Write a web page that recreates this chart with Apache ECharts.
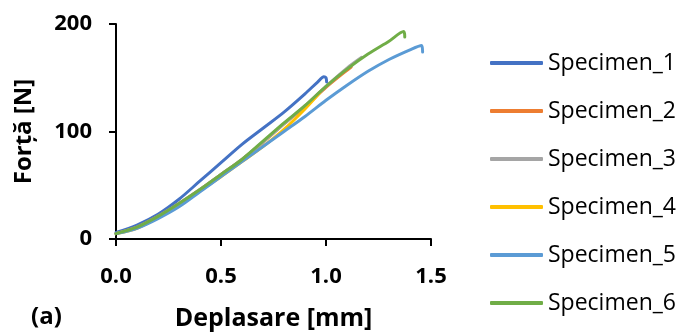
<!DOCTYPE html>
<html>
<head>
<meta charset="utf-8">
<script src="https://cdn.jsdelivr.net/npm/echarts@6/dist/echarts.min.js"></script>
<style>
html,body{margin:0;padding:0;background:#fff;}
#chart{width:682px;height:336px;}
</style>
</head>
<body>
<div id="chart"></div>
<script>
// ---- data (displacement [mm], force [N]) ----
const seriesNames = ['Specimen_1','Specimen_2','Specimen_3','Specimen_4','Specimen_5','Specimen_6'];
const seriesColors = ['#4472C4','#ED7D31','#A5A5A5','#FFC000','#5B9BD5','#70AD47'];
const xTickLabels = ['0.0','0.5','1.0','1.5'];
const yTickLabels = ['0','100','200'];

const specimen1 = [[0,6],[0.1,13],[0.2,23],[0.3,37],[0.4,54],[0.5,71],[0.6,88],[0.7,103],[0.8,118],[0.9,135],[0.96,146],[0.99,151],[1.0,150],[1.003,146]];
const specimen2 = [[0,5],[0.1,11],[0.2,21],[0.3,33],[0.4,46],[0.5,60],[0.6,74],[0.7,90],[0.8,107],[0.9,123],[1.0,141],[1.1,157],[1.12,160]];
const specimen3 = [[0,5],[0.1,11],[0.2,21],[0.3,33],[0.4,46],[0.5,60],[0.6,74],[0.7,90],[0.8,107],[0.9,124],[1.0,142],[1.1,159],[1.17,169]];
const specimen4 = [[0,5],[0.1,10],[0.2,20],[0.3,32],[0.4,45],[0.5,58],[0.6,72],[0.7,86],[0.8,102],[0.9,121],[0.97,136]];
const specimen5 = [[0,5],[0.1,10],[0.2,19],[0.3,30],[0.4,44],[0.5,58],[0.6,72],[0.7,86],[0.8,100],[0.9,114],[1.0,129],[1.1,143],[1.2,156],[1.3,167],[1.4,176],[1.455,180],[1.46,174]];
const specimen6 = [[0,5],[0.1,11],[0.2,21],[0.3,33],[0.4,46],[0.5,60],[0.6,74],[0.7,91],[0.8,108],[0.9,124],[1.0,142],[1.1,158],[1.2,172],[1.3,184],[1.37,193],[1.375,188]];
const allData = [specimen1,specimen2,specimen3,specimen4,specimen5,specimen6];

const chart = echarts.init(document.getElementById('chart'));
const fontFam = '"Open Sans", sans-serif';
chart.setOption({
  animation:false,
  backgroundColor:'#fff',
  grid:{left:116,right:251,top:24,bottom:95,containLabel:false},
  xAxis:{
    type:'value',min:0,max:1.5,interval:0.5,
    name:'Deplasare [mm]',nameLocation:'middle',nameGap:67,
    nameTextStyle:{fontFamily:fontFam,fontWeight:'bold',fontSize:25,color:'#000'},
    axisLine:{show:true,lineStyle:{color:'#000',width:2}},
    axisTick:{show:true,length:7,lineStyle:{color:'#000',width:2}},
    axisLabel:{margin:27,fontFamily:fontFam,fontWeight:'bold',fontSize:22,color:'#000',
      formatter:(v)=>xTickLabels[Math.round(v/0.5)]},
    splitLine:{show:false}
  },
  yAxis:{
    type:'value',min:0,max:200,interval:100,
    name:'Forță [N]',nameLocation:'middle',nameGap:80,nameRotate:90,
    nameTextStyle:{fontFamily:fontFam,fontWeight:'bold',fontSize:24,color:'#000'},
    axisLine:{show:true,lineStyle:{color:'#000',width:2}},
    axisTick:{show:true,length:7,lineStyle:{color:'#000',width:2}},
    axisLabel:{margin:24,fontFamily:fontFam,fontWeight:'bold',fontSize:22,color:'#000',
      formatter:(v)=>yTickLabels[Math.round(v/100)]},
    splitLine:{show:false}
  },
  legend:{
    orient:'vertical',left:490,top:50,padding:0,
    itemWidth:53,itemHeight:4,itemGap:22,icon:'roundRect',
    textStyle:{fontFamily:fontFam,fontSize:23,color:'#000',lineHeight:26,padding:[0,0,0,0]},
    data:seriesNames
  },
  graphic:[{type:'text',left:31,top:305,style:{text:'(a)',font:'bold 24px "Open Sans", sans-serif',fill:'#000'}}],
  series:allData.map((d,i)=>({
    name:seriesNames[i],type:'line',data:d,showSymbol:false,symbol:'none',smooth:0.3,
    color:seriesColors[i],
    lineStyle:{width:3,color:seriesColors[i],cap:'round',join:'round'},
    z:2+i
  }))
});
</script>
</body>
</html>
